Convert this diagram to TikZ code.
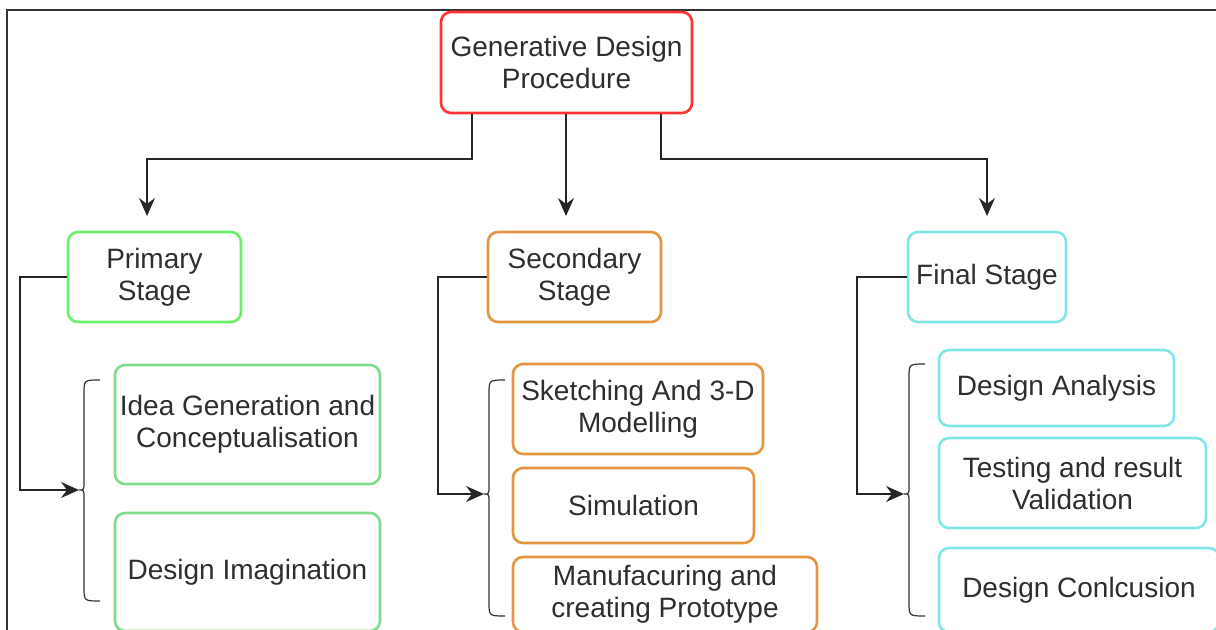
\documentclass[tikz,border=0pt]{standalone}
\usepackage{fontspec}
\setmainfont{Liberation Sans}
\usetikzlibrary{arrows.meta}
\definecolor{mainred}{HTML}{FF3333}
\definecolor{primgreen}{HTML}{6AF06A}
\definecolor{subgreen}{HTML}{80DC8C}
\definecolor{secorange}{HTML}{E5943F}
\definecolor{fincyan}{HTML}{80E6E6}

\begin{document}
\begin{tikzpicture}[x=0.5pt,y=-0.5pt,
   box/.style={draw, rounded corners=5pt, line width=1.3pt, align=center,
      inner sep=0pt, text=black!82, font=\fontsize{14}{16}\selectfont},
   link/.style={draw=black!85, line width=0.85pt,
      -{Stealth[length=9pt,width=8pt,inset=3pt]}},
   brace/.style={draw=black!80, line width=0.6pt}]
   \useasboundingbox (0,0) rectangle (1216,630);
   \clip (0,0) rectangle (1216,630);

   % frame
   \draw[black!80, line width=0.8pt] (1216,10) -- (7,10) -- (7,630);

   \node[box, draw=mainred, minimum width=125.5pt, minimum height=50.5pt] (main) at (566.5,62.5) {Generative Design\\Procedure};

   \node[box, draw=primgreen, minimum width=86.5pt, minimum height=45pt] (prim) at (154.5,277) {Primary\\Stage};
   \node[box, draw=secorange, minimum width=86.5pt, minimum height=45pt] (sec) at (574.5,277) {Secondary\\Stage};
   \node[box, draw=fincyan, minimum width=79pt, minimum height=45pt] (fin) at (987,277) {Final Stage};

   \node[box, draw=subgreen, minimum width=132.5pt, minimum height=59.5pt] (idea) at (247.5,424.5) {Idea Generation and\\Conceptualisation};
   \node[box, draw=subgreen, minimum width=132.5pt, minimum height=59pt] (imag) at (247.5,572) {Design Imagination};

   \node[box, draw=secorange, minimum width=125pt, minimum height=45pt] (sketch) at (638,409) {Sketching And 3-D\\Modelling};
   \node[box, draw=secorange, minimum width=120.5pt, minimum height=37.5pt] (sim) at (633.5,505.5) {Simulation};
   \node[box, draw=secorange, minimum width=152pt, minimum height=37.5pt] (manu) at (665,594.5) {Manufacuring and\\creating Prototype};

   \node[box, draw=fincyan, minimum width=117.5pt, minimum height=38pt] (anal) at (1056.5,388) {Design Analysis};
   \node[box, draw=fincyan, minimum width=133.5pt, minimum height=45pt] (test) at (1072.5,483) {Testing and result\\Validation};
   \node[box, draw=fincyan, minimum width=140pt, minimum height=42pt] (concl) at (1079,590) {Design Conlcusion};

   % arrow ends
   \coordinate (inP) at (147,216);
   \coordinate (inS) at (566,216);
   \coordinate (inF) at (987,216);
   \coordinate (tipP) at (79,490);
   \coordinate (tipS) at (484,494);
   \coordinate (tipF) at (904,494);

   \draw[link] (main.south west) ++(32,0) -- ++(0,45) -| (inP);
   \draw[link] (main.south -| inS) -- (inS);
   \draw[link] (main.south east) ++(-32,0) -- ++(0,45) -| (inF);

   \draw[link] (prim.west) -- ++(-47,0) |- (tipP);
   \draw[link] (sec.west) -- ++(-49,0) |- (tipS);
   \draw[link] (fin.west) -- ++(-50,0) |- (tipF);

   % braces
   \draw[brace] (100,380) .. controls (84,380) .. (84,394) -- (84,482)
      .. controls (84,490) .. (tipP) .. controls (84,490) .. (84,498)
      -- (84,587) .. controls (84,601) .. (100,601);
   \draw[brace] (505,380) .. controls (489,380) .. (489,394) -- (489,486)
      .. controls (489,494) .. (tipS) .. controls (489,494) .. (489,502)
      -- (489,602) .. controls (489,616) .. (505,616);
   \draw[brace] (925,364) .. controls (909,364) .. (909,378) -- (909,486)
      .. controls (909,494) .. (tipF) .. controls (909,494) .. (909,502)
      -- (909,602) .. controls (909,616) .. (925,616);
\end{tikzpicture}
\end{document}
